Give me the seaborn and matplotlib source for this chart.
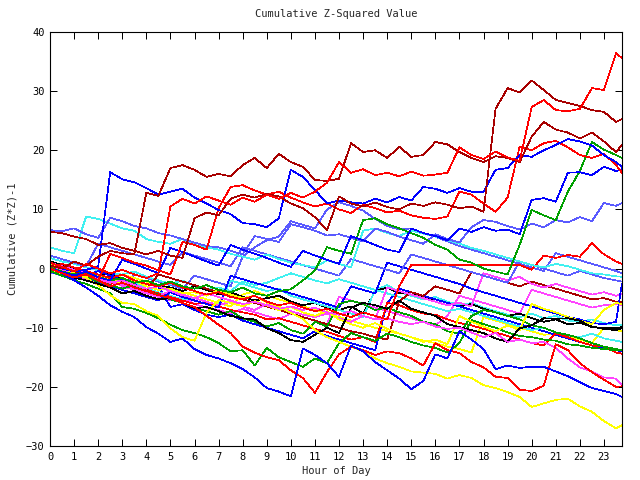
import matplotlib
matplotlib.use("Agg")
import matplotlib.pyplot as plt
import seaborn as sns
import pandas as pd

HOURS = [0, 0.5, 1, 1.5, 2, 2.5, 3, 3.5, 4, 4.5, 5, 5.5, 6, 6.5, 7, 7.5,
         8, 8.5, 9, 9.5, 10, 10.5, 11, 11.5, 12, 12.5, 13, 13.5, 14, 14.5,
         15, 15.5, 16, 16.5, 17, 17.5, 18, 18.5, 19, 19.5, 20, 20.5, 21, 21.5,
         22, 22.5, 23, 23.5, 23.75]

red_a = [1.0, 0.3, -0.5, 0.8, 0.0, -0.8, -0.2, -1.0, -1.6, -0.8, 10.5, 11.8,
         11.0, 12.2, 11.5, 10.8, 12.0, 11.3, 12.5, 11.8, 12.8, 12.0, 13.0, 14.5,
         18.0, 16.2, 16.8, 15.8, 16.2, 15.6, 16.4, 15.7, 15.9, 16.2, 20.5, 19.2,
         18.5, 19.8, 18.8, 18.2, 27.3, 28.5, 26.8, 26.6, 27.0, 30.5, 30.2, 36.4, 35.6]
darkred_a = [6.2, 6.0, 5.4, 5.0, 4.0, 4.3, 3.5, 3.0, 2.4, 3.0, 2.2, 1.8,
             8.5, 9.5, 9.0, 11.8, 12.5, 12.0, 12.6, 12.2, 11.0, 10.2, 8.7, 6.5,
             12.2, 11.0, 10.5, 11.2, 10.4, 10.0, 11.0, 10.6, 11.2, 10.8, 10.2, 10.5,
             9.6, 27.0, 30.5, 29.8, 31.8, 30.2, 28.5, 28.0, 27.5, 26.8, 26.5, 24.8, 25.3]
darkred_b = [0.5, 0.0, 1.2, 0.5, 2.0, 3.0, 2.6, 2.4, 12.8, 12.3, 17.0, 17.5,
             16.7, 15.5, 16.0, 15.6, 17.5, 18.7, 17.0, 19.4, 18.0, 17.2, 15.0, 14.8,
             15.2, 21.2, 19.7, 20.0, 18.7, 20.6, 18.9, 19.2, 21.4, 21.0, 19.7, 18.7,
             18.0, 19.0, 18.7, 18.0, 22.3, 24.8, 23.5, 23.0, 22.0, 23.0, 21.5, 19.7, 20.9]
red_b = [0.0, -0.8, -1.5, -1.0, -2.0, 2.5, 1.8, 1.0, 0.5, -0.3, -1.0, 4.5,
         4.0, 3.2, 10.2, 13.8, 14.1, 13.2, 12.5, 13.0, 12.0, 11.2, 10.5, 11.0,
         10.0, 9.4, 10.8, 10.2, 9.5, 9.8, 9.0, 8.6, 8.4, 8.8, 13.0, 12.5,
         11.0, 9.6, 12.0, 20.6, 20.0, 21.2, 21.6, 20.5, 19.2, 18.7, 19.4, 17.5, 16.2]
blue_a = [0.5, 0.0, -0.5, -0.2, 0.3, 16.3, 15.1, 14.6, 13.6, 12.5, 13.0, 13.5,
          12.0, 11.0, 9.9, 9.2, 7.7, 7.5, 7.0, 8.5, 16.7, 15.5, 13.3, 11.0,
          11.5, 11.2, 11.0, 11.8, 11.2, 12.1, 11.5, 13.8, 13.5, 12.8, 13.6, 13.0,
          13.0, 16.7, 17.0, 19.2, 18.9, 20.0, 20.9, 21.9, 21.5, 20.8, 19.2, 18.0, 17.2]
blue_b = [0.0, -0.6, -1.2, -0.5, -1.5, -2.0, 1.5, 0.8, 0.0, -0.8, 3.5, 2.8,
          2.0, 1.2, 0.5, 4.0, 3.2, 2.5, 1.8, 1.0, 0.3, 3.0, 2.2, 1.5,
          0.8, 5.5, 4.8, 4.0, 3.2, 2.8, 6.8, 6.0, 5.5, 4.8, 6.8, 6.2,
          7.0, 6.4, 6.6, 5.8, 11.6, 11.9, 11.3, 16.2, 16.3, 15.8, 17.2, 16.5, 16.8]
green_a = [0.2, -0.5, -1.0, -0.6, -1.4, -2.0, -1.6, -2.4, -2.0, -2.8, -2.2, -3.0,
           -3.4, -2.8, -3.6, -4.0, -3.2, -4.2, -4.6, -3.8, -3.5, -2.0, -0.3, 3.6,
           3.0, 2.5, 8.2, 8.5, 7.5, 6.8, 6.0, 5.2, 4.0, 3.2, 1.5, 1.0,
           0.0, -0.5, -1.0, 4.0, 9.9, 9.0, 8.2, 13.0, 16.5, 21.4, 20.1, 19.2, 18.7]
lightblue_a = [6.5, 6.3, 6.8, 5.8, 5.2, 8.6, 8.0, 7.2, 6.8, 6.0, 5.6, 5.0,
               4.4, 3.8, 3.6, 3.0, 2.4, 5.5, 5.0, 4.5, 7.5, 7.0, 6.4, 5.6,
               5.8, 5.2, 4.6, 6.8, 6.2, 5.4, 4.8, 4.2, 5.8, 5.0, 4.4, 7.0,
               8.2, 7.9, 7.2, 6.6, 7.6, 7.0, 8.2, 7.8, 8.7, 8.0, 11.1, 10.6, 11.1]
cyan_a = [3.6, 3.0, 2.6, 8.8, 8.4, 7.6, 6.8, 6.4, 5.0, 4.5, 4.2, 5.0,
          4.0, 3.6, 3.2, 2.5, 2.0, 1.5, 2.4, 1.6, 1.0, 0.6, 0.2, 1.4,
          0.8, 0.2, 6.4, 6.8, 6.0, 5.5, 6.4, 5.9, 5.4, 4.8, 4.2, 3.5,
          3.0, 2.4, 1.8, 1.2, 0.6, 0.2, 0.8, 0.4, -0.2, -0.8, -1.0, -1.3, -1.4]
cyan_b = [1.8, 1.2, 0.8, 0.2, -0.3, -0.8, -1.0, -0.5, -1.4, -2.0, -2.6, -2.0,
          -3.0, -3.5, -3.2, -3.8, -2.2, -2.8, -2.4, -1.6, -0.8, -1.4, -2.0, -2.5,
          -1.8, -2.4, -3.0, -3.6, -2.8, -4.0, -4.6, -5.2, -4.8, -5.6, -6.2, -5.8,
          -6.6, -7.2, -7.8, -8.2, -7.6, -8.4, -8.0, -8.8, -9.0, -8.6, -9.2, -9.6, -9.5]
magenta_a = [0.5, -0.3, -1.0, -0.6, -1.8, -2.4, -2.0, -2.8, -3.4, -3.0, -3.8, -4.5,
             -5.0, -4.2, -4.8, -5.4, -6.0, -5.6, -6.2, -6.8, -6.4, -7.0, -6.6, -7.4,
             -7.8, -7.2, -8.0, -8.6, -8.4, -9.0, -9.4, -9.0, -9.8, -10.2, -10.0, -10.8,
             -11.6, -10.9, -12.4, -12.0, -12.6, -12.4, -13.4, -15.2, -16.7, -17.4, -18.4, -18.6, -19.7]
red_c = [0.0, -0.6, -1.2, -0.8, -2.0, -3.0, -2.4, -3.2, -3.8, -4.5, -5.0, -5.8,
         -6.5, -8.0, -9.5, -10.9, -13.2, -14.2, -15.0, -15.5, -17.2, -18.5, -21.0, -17.5,
         -14.5, -13.2, -13.8, -14.6, -14.0, -14.3, -15.2, -16.4, -12.6, -13.8, -14.3, -15.8,
         -16.7, -18.3, -18.5, -20.5, -20.7, -19.8, -12.8, -13.8, -16.0, -17.5, -18.8, -20.0, -19.9]
blue_c = [0.2, -0.8, -2.0, -3.2, -4.6, -6.2, -7.3, -8.2, -9.9, -11.0, -12.4, -11.8,
          -13.6, -14.6, -15.2, -16.0, -17.0, -18.4, -20.2, -20.8, -21.6, -13.5, -14.6, -16.0,
          -18.3, -13.0, -14.0, -15.8, -17.2, -18.6, -20.4, -19.0, -14.5, -15.2, -10.6, -12.0,
          -13.6, -17.0, -16.4, -16.8, -16.6, -16.6, -17.4, -18.2, -19.2, -20.2, -20.7, -21.2, -21.7]
yellow_a = [0.8, 0.0, -0.8, -1.4, -1.0, -1.8, -2.5, -2.0, -3.0, -3.6, -3.4, -4.2,
            -4.0, -4.6, -3.6, -4.4, -5.0, -4.6, -5.7, -6.4, -7.5, -8.5, -10.4, -11.6,
            -12.4, -13.2, -14.0, -15.2, -16.0, -16.6, -17.4, -17.6, -17.8, -18.6, -18.0, -18.5,
            -19.7, -20.2, -20.9, -21.7, -23.4, -22.8, -22.2, -22.0, -23.3, -24.2, -25.8, -27.0, -26.5]
yellow_b = [0.4, -0.2, -0.8, -1.6, -2.8, -4.5, -5.8, -6.0, -7.2, -8.0, -10.1, -11.6,
            -12.2, -7.5, -5.3, -5.8, -6.4, -5.5, -6.2, -7.0, -6.5, -7.4, -8.0, -7.2,
            -8.6, -9.4, -10.0, -9.2, -10.2, -11.0, -11.6, -12.4, -12.0, -12.8, -8.0, -9.0,
            -9.8, -10.6, -9.6, -10.4, -6.0, -6.8, -7.4, -8.2, -8.8, -9.4, -7.0, -5.8, -6.0]
black_a = [0.0, -0.8, -1.5, -2.0, -2.6, -3.2, -4.2, -3.8, -4.6, -5.2, -5.0, -5.8,
           -6.7, -6.5, -7.2, -8.0, -8.4, -8.6, -10.1, -10.9, -12.1, -12.4, -11.2, -10.0,
           -10.9, -6.6, -5.8, -6.2, -6.8, -5.4, -6.8, -7.4, -8.0, -9.4, -9.9, -10.4,
           -10.9, -11.8, -12.4, -10.1, -9.6, -8.4, -8.5, -8.4, -8.8, -9.9, -10.1, -10.1, -9.9]
black_b = [1.2, 0.6, 0.0, -0.4, -1.2, -0.8, -1.8, -2.4, -2.0, -2.8, -3.2, -3.8,
           -3.0, -3.6, -4.4, -4.0, -4.8, -5.4, -5.0, -4.6, -5.6, -6.2, -5.8, -6.6,
           -7.0, -6.4, -7.6, -3.8, -3.2, -4.2, -4.0, -4.8, -5.2, -5.8, -6.4, -6.0,
           -6.8, -7.4, -8.0, -7.6, -8.4, -9.0, -8.6, -9.4, -9.2, -9.8, -10.2, -10.4, -10.1]
green_b = [0.6, 0.0, -0.8, -1.4, -2.2, -2.8, -3.4, -2.8, -3.8, -4.4, -5.2, -5.8,
           -6.6, -7.2, -7.8, -7.2, -8.4, -9.0, -9.8, -9.2, -10.4, -11.0, -9.0, -9.8,
           -6.0, -5.4, -6.0, -7.0, -6.6, -7.4, -8.0, -9.0, -9.4, -10.6, -11.0, -8.0,
           -7.0, -7.4, -8.0, -8.6, -9.6, -10.0, -10.8, -11.2, -11.8, -12.6, -13.2, -13.6, -13.8]
green_c = [-0.4, -1.2, -2.0, -2.6, -3.4, -4.2, -6.5, -6.8, -7.5, -8.4, -9.5, -10.4,
           -10.9, -11.6, -12.6, -14.0, -13.8, -16.4, -13.4, -15.0, -15.8, -16.6, -15.2, -16.0,
           -12.6, -10.9, -11.6, -12.2, -11.0, -11.6, -12.4, -13.0, -13.4, -14.2, -12.6, -8.7,
           -9.4, -10.0, -10.8, -11.4, -11.6, -12.0, -12.2, -12.8, -13.0, -13.4, -13.6, -13.8, -13.8]
red_d = [0.0, 0.8, 0.2, -0.4, -1.0, -1.6, -1.0, -2.0, -2.6, -3.0, -2.4, -3.2,
         -3.8, -4.4, -4.0, -4.8, -5.2, -4.6, -5.6, -6.2, -5.8, -6.6, -7.2, -6.8,
         -7.6, -8.2, -7.4, -8.0, -8.6, -3.0, 0.6, 0.6, 0.6, 0.6, 0.6, 0.6,
         0.6, 0.6, 0.6, 0.6, -0.2, 2.2, 1.8, 2.3, 2.0, 4.3, 2.4, 1.2, 0.8]
lightblue_b = [2.2, 1.6, 1.0, 0.4, 4.2, 3.6, 3.0, 2.4, 1.8, 1.2, 0.6, 2.8,
               2.2, 1.6, 1.0, 0.4, 3.6, 3.0, 2.4, 1.8, 1.2, 0.6, 0.0, -0.6,
               -1.2, 1.6, 1.0, 0.4, -0.2, -0.8, 2.4, 1.8, 1.2, 0.6, 0.0, -0.6,
               -1.2, -1.8, -2.4, 1.2, 0.6, 0.0, -0.6, -1.2, -0.4, -1.0, -1.6, -2.0, -2.2]
blue_d = [-0.5, -1.2, -1.8, -1.2, -2.4, -3.0, -3.6, -4.2, -4.8, -5.4, -4.0, -4.8,
          -5.4, -6.0, -6.6, -1.2, -1.8, -2.4, -3.0, -3.6, -4.2, -4.8, -5.4, -6.0,
          -6.6, -3.0, -3.6, -4.2, 1.0, 0.4, -0.2, -0.8, -1.4, -2.0, -2.6, -3.4,
          -4.0, -4.6, -5.2, -5.8, -6.4, -7.0, -7.6, -8.2, -8.6, -9.2, -9.4, -9.0, -2.5]
magenta_b = [1.0, 0.4, -0.2, -0.8, -1.6, -2.2, -2.8, -3.4, -4.0, -4.6, -3.8, -4.4,
             -5.0, -5.6, -6.2, -5.6, -6.4, -7.0, -6.0, -6.6, -7.2, -7.8, -8.2, -7.6,
             -8.4, -9.0, -8.0, -8.6, -3.2, -3.8, -4.4, -5.0, -5.6, -6.2, -5.8, -6.4,
             -0.8, -1.4, -2.0, -1.4, -2.6, -3.2, -2.6, -3.2, -3.8, -4.4, -4.0, -4.6, -4.2]
magenta_c = [0.2, -0.4, -1.2, -1.8, -2.4, -1.8, -3.0, -3.6, -4.2, -4.8, -5.4, -4.8,
             -6.0, -6.6, -7.0, -7.6, -6.8, -7.4, -8.0, -8.6, -7.6, -8.2, -8.8, -9.4,
             -4.8, -5.4, -6.0, -6.6, -7.2, -7.8, -8.4, -9.0, -9.6, -8.0, -4.6, -5.2,
             -5.8, -6.4, -7.0, -7.6, -3.6, -4.2, -4.8, -5.4, -6.0, -6.6, -6.2, -6.0, -6.2]
cyan_c = [0.0, -0.5, -1.0, -0.6, -1.4, -2.0, -2.6, -2.2, -3.4, -4.0, -4.6, -5.2,
          -5.0, -5.6, -6.2, -2.0, -2.6, -3.2, -3.8, -3.4, -4.6, -5.2, -5.8, -6.4,
          -7.0, -7.6, -8.2, -3.6, -4.2, -4.8, -5.4, -6.0, -6.6, -7.2, -6.8, -7.4,
          -8.0, -8.6, -9.2, -9.8, -10.4, -10.0, -10.8, -11.4, -11.6, -11.0, -11.8, -12.2, -12.4]
blue_e = [0.8, 0.2, -0.6, -1.2, -0.4, -1.2, -2.0, -2.6, -3.4, -3.0, -6.5, -6.0,
          -7.0, -7.8, -8.2, -7.8, -8.8, -9.4, -10.0, -10.6, -11.2, -11.8, -10.6, -11.4,
          -12.0, -12.6, -13.2, -13.8, -5.8, -3.4, -4.0, -4.6, -5.2, -5.8, -6.4, -7.0,
          -7.6, -8.2, -8.8, -9.4, -10.0, -10.6, -11.2, -11.8, -12.4, -13.0, -13.4, -13.8, -14.0]
yellow_c = [-0.2, -0.8, -1.4, -2.0, -2.6, -2.2, -1.0, -1.6, -2.2, -2.8, -3.4, -4.0,
            -4.6, -5.2, -5.8, -6.4, -4.4, -3.8, -4.6, -5.2, -5.8, -6.4, -7.0, -7.6,
            -8.2, -8.8, -9.4, -10.0, -10.6, -11.0, -11.6, -12.2, -12.6, -13.2, -13.6, -14.2,
            -8.2, -8.8, -9.4, -10.0, -10.6, -11.2, -11.0, -11.6, -12.0, -12.6, -10.0, -10.4, -10.6]
darkred_c = [0.6, 0.0, -0.6, -1.2, -1.8, -1.4, -2.4, -3.0, -3.6, -1.0, -1.6, -2.2,
             -2.8, -3.4, -4.0, -4.6, -5.2, -5.8, -6.4, -7.0, -7.6, -8.2, -8.8, -9.4,
             -10.0, -10.6, -11.0, -11.6, -12.0, -5.5, -4.0, -4.6, -3.0, -3.6, -4.2, -0.6,
             -1.2, -1.8, -2.4, -3.0, -2.2, -2.8, -3.4, -4.0, -4.6, -5.2, -5.0, -5.6, -5.6]
red_e = [0.4, -0.4, -1.0, -0.4, -1.6, -2.6, -2.0, -3.0, -3.6, -4.2, -4.8, -5.4,
         -6.0, -5.6, -6.4, -7.0, -7.4, -7.8, -8.6, -8.4, -9.0, -9.6, -10.2, -10.7,
         -11.4, -12.0, -11.6, -12.4, -5.8, -6.2, -7.0, -7.6, -7.8, -8.6, -9.2, -9.6,
         -10.2, -10.8, -11.4, -12.0, -12.6, -13.0, -11.0, -11.6, -12.4, -13.0, -13.2, -14.2, -14.4]
lightblue_c = [-0.6, -1.2, -1.8, -1.4, -2.2, -2.8, -3.4, -1.0, -1.6, -2.2, -2.8, -3.4,
               -1.2, -1.8, -2.4, -3.0, 2.0, 3.6, 4.8, 5.4, 8.0, 7.4, 6.8, 10.0,
               11.2, 10.6, 9.8, 8.4, 7.2, 6.6, 6.8, 6.0, 5.4, 4.6, 3.8, 3.2,
               2.6, 2.0, 1.4, 0.8, 0.2, -0.4, 2.6, 2.0, 1.4, 0.8, 0.2, -0.4, -0.8]

SERIES = {
    "lightblue_c": lightblue_c, "cyan_b": cyan_b, "yellow_c": yellow_c,
    "magenta_c": magenta_c, "black_b": black_b, "blue_e": blue_e,
    "cyan_c": cyan_c, "red_e": red_e, "darkred_c": darkred_c,
    "magenta_b": magenta_b, "blue_d": blue_d, "lightblue_b": lightblue_b,
    "green_c": green_c, "green_b": green_b, "yellow_b": yellow_b,
    "black_a": black_a, "yellow_a": yellow_a, "magenta_a": magenta_a,
    "red_c": red_c, "blue_c": blue_c, "red_d": red_d, "cyan_a": cyan_a,
    "lightblue_a": lightblue_a, "green_a": green_a, "blue_b": blue_b,
    "red_b": red_b, "blue_a": blue_a, "darkred_b": darkred_b,
    "darkred_a": darkred_a, "red_a": red_a,
}

COLOR_OF = {"red": "#ff0000", "darkred": "#a80000", "blue": "#0000ff",
            "lightblue": "#5a5aff", "green": "#00a000", "cyan": "#40f0f0",
            "magenta": "#ff44ff", "yellow": "#ffff00", "black": "#000000"}

rows = []
for name, vals in SERIES.items():
    if len(vals) != len(HOURS):
        raise ValueError(f"{name} has {len(vals)} values")
    for h, v in zip(HOURS, vals):
        rows.append({"hour": h, "value": v, "series": name})
df = pd.DataFrame(rows)
palette = {n: COLOR_OF[n.rsplit("_", 1)[0]] for n in SERIES}

sns.set_style("ticks")
plt.rcParams["font.family"] = ["DejaVu Sans Mono"]
plt.rcParams["font.size"] = 7.5

fig = plt.figure(figsize=(6.4, 4.8), dpi=100)
ax = fig.add_axes([50 / 640, 34 / 480, 572 / 640, 414 / 480])
sns.lineplot(data=df, x="hour", y="value", hue="series", palette=palette,
             hue_order=list(SERIES.keys()), estimator=None, sort=False,
             linewidth=0.5, legend=False, ax=ax, antialiased=False)

ax.set_xlim(0, 23.75)
ax.set_ylim(-30, 40)
ax.set_xticks(list(range(24)))
ax.set_xticklabels([str(i) for i in range(24)])
ax.set_yticks([-30, -20, -10, 0, 10, 20, 30, 40])
ax.tick_params(direction="in", length=5, width=0.72, top=True, right=True,
               labelsize=7.5, colors="black", pad=4)
for s in ax.spines.values():
    s.set_linewidth(0.8)
    s.set_color("black")
ax.set_title("Cumulative Z-Squared Value", fontsize=7.5, pad=11)
ax.set_xlabel("Hour of Day", fontsize=7.5, labelpad=3)
ax.set_ylabel("Cumulative (Z*Z)-1", fontsize=7.5, labelpad=6)

fig.savefig("out.png", dpi=100)
